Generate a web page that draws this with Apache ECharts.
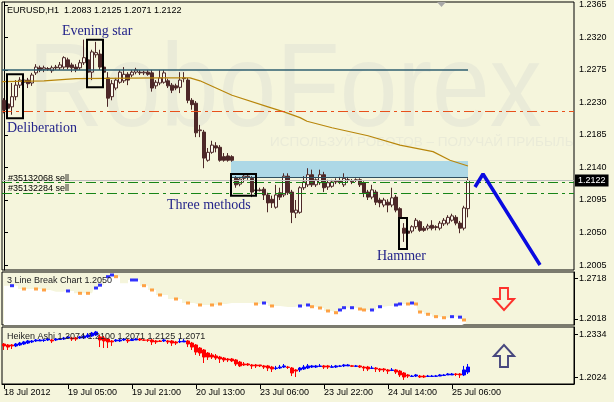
<!DOCTYPE html>
<html><head><meta charset="utf-8">
<script src="https://cdn.jsdelivr.net/npm/echarts@6/dist/echarts.min.js"></script>
<style>html,body{margin:0;padding:0;background:#f5f5dc}#c{width:614px;height:402px}</style>
</head><body><div id="c"></div>
<script>
// ---- main EURUSD H1 candles (bars 0..116) ----
const opens = [1.2233,1.2228,1.2224,1.2238,1.2254,1.2258,1.2261,1.2257,1.2271,1.2278,
1.2276,1.2276,1.2274,1.2279,1.2278,1.2279,1.2289,1.2282,1.2279,1.2278,
1.2285,1.2289,1.2272,1.2296,1.2297,1.2279,1.2264,1.2238,1.2250,1.2258,
1.2260,1.2269,1.2268,1.2272,1.2272,1.2271,1.2272,1.2271,1.2253,1.2257,
1.2258,1.2260,1.2254,1.2253,1.2251,1.2263,1.2261,1.2233,1.2229,1.2191,
1.2189,1.2150,1.2161,1.2170,1.2168,1.2155,1.2156,1.2155,1.2125,1.2117,
1.2125,1.2127,1.2125,1.2109,1.2109,1.2110,1.2102,1.2096,1.2085,1.2105,
1.2102,1.2128,1.2106,1.2077,1.2078,1.2112,1.2116,1.2130,1.2116,1.2119,
1.2130,1.2113,1.2114,1.2120,1.2121,1.2116,1.2123,1.2120,1.2123,1.2123,
1.2119,1.2106,1.2099,1.2106,1.2095,1.2088,1.2092,1.2088,1.2099,1.2083,
1.2056,1.2052,1.2052,1.2058,1.2065,1.2056,1.2056,1.2060,1.2058,1.2056,
1.2062,1.2063,1.2067,1.2071,1.2063,1.2056,1.2083];
const closes = [1.2220,1.2222,1.2238,1.2254,1.2261,1.2261,1.2256,1.2268,1.2279,1.2275,
1.2278,1.2277,1.2278,1.2278,1.2282,1.2292,1.2279,1.2278,1.2276,1.2285,
1.2292,1.2272,1.2300,1.2299,1.2279,1.2272,1.2236,1.2256,1.2261,1.2272,
1.2269,1.2261,1.2272,1.2275,1.2271,1.2272,1.2269,1.2250,1.2258,1.2264,
1.2271,1.2253,1.2247,1.2250,1.2261,1.2264,1.2233,1.2227,1.2188,1.2192,
1.2153,1.2161,1.2171,1.2167,1.2150,1.2150,1.2150,1.2150,1.2116,1.2124,
1.2128,1.2128,1.2106,1.2108,1.2108,1.2102,1.2091,1.2091,1.2102,1.2099,
1.2128,1.2105,1.2078,1.2081,1.2112,1.2120,1.2130,1.2116,1.2123,1.2130,
1.2112,1.2119,1.2120,1.2121,1.2120,1.2125,1.2123,1.2121,1.2122,1.2116,
1.2105,1.2099,1.2109,1.2092,1.2091,1.2095,1.2088,1.2098,1.2081,1.2070,
1.2049,1.2049,1.2058,1.2067,1.2053,1.2053,1.2059,1.2056,1.2057,1.2063,
1.2067,1.2071,1.2073,1.2063,1.2056,1.2084,1.2122];
const highs = [1.2236,1.2233,1.2257,1.2261,1.2265,1.2264,1.2264,1.2271,1.2283,1.2281,
1.2281,1.2279,1.2281,1.2282,1.2286,1.2294,1.2292,1.2285,1.2283,1.2289,
1.2317,1.2292,1.2303,1.2314,1.2303,1.2281,1.2272,1.2261,1.2264,1.2275,
1.2279,1.2272,1.2275,1.2278,1.2275,1.2274,1.2275,1.2275,1.2261,1.2275,
1.2275,1.2263,1.2257,1.2256,1.2272,1.2272,1.2264,1.2236,1.2232,1.2199,
1.2192,1.2167,1.2177,1.2175,1.2171,1.2160,1.2160,1.2157,1.2128,1.2127,
1.2132,1.2131,1.2128,1.2112,1.2112,1.2113,1.2105,1.2101,1.2116,1.2112,
1.2132,1.2132,1.2109,1.2095,1.2114,1.2128,1.2139,1.2137,1.2125,1.2137,
1.2134,1.2123,1.2123,1.2125,1.2127,1.2132,1.2127,1.2124,1.2125,1.2125,
1.2121,1.2109,1.2116,1.2109,1.2098,1.2098,1.2096,1.2112,1.2102,1.2085,
1.2063,1.2055,1.2060,1.2070,1.2067,1.2059,1.2062,1.2067,1.2060,1.2066,
1.2070,1.2074,1.2076,1.2074,1.2066,1.2087,1.2125];
const lows = [1.2215,1.2214,1.2213,1.2233,1.2250,1.2254,1.2250,1.2253,1.2268,1.2272,
1.2272,1.2274,1.2271,1.2275,1.2275,1.2276,1.2276,1.2272,1.2272,1.2275,
1.2282,1.2267,1.2261,1.2292,1.2275,1.2268,1.2224,1.2233,1.2247,1.2256,
1.2257,1.2254,1.2265,1.2269,1.2268,1.2268,1.2267,1.2245,1.2249,1.2254,
1.2256,1.2250,1.2243,1.2247,1.2243,1.2258,1.2229,1.2220,1.2182,1.2182,
1.2139,1.2148,1.2159,1.2161,1.2148,1.2148,1.2148,1.2148,1.2112,1.2114,
1.2119,1.2123,1.2099,1.2106,1.2107,1.2095,1.2078,1.2084,1.2083,1.2095,
1.2099,1.2102,1.2063,1.2070,1.2076,1.2109,1.2113,1.2113,1.2113,1.2116,
1.2106,1.2109,1.2112,1.2117,1.2117,1.2113,1.2120,1.2117,1.2120,1.2113,
1.2099,1.2095,1.2096,1.2088,1.2085,1.2085,1.2078,1.2085,1.2078,1.2065,
1.2037,1.2047,1.2049,1.2055,1.2051,1.2051,1.2053,1.2053,1.2053,1.2053,
1.2059,1.2060,1.2065,1.2060,1.2049,1.2053,1.2071];

// ---- moving average (sparse readings: bar position, value) ----
const maBars = [-0.5,10,18,39,46.5,49,57,66,70,74,75.75,82,91,99,107.25,111.5,116];
const maVals = [1.2259,1.2260,1.2263,1.2264,1.2264,1.2260,1.2240,1.2224,1.2217,1.2209,1.2204,1.2195,1.2184,1.2171,1.2162,1.2150,1.2142];

// ---- forecast zigzag ----
const zzBars = [117.75,119.75,134];
const zzVals = [1.2113,1.2131,1.2005];

// ---- Heiken Ashi ----
const haOpen = [1.2264,1.2257,1.2257,1.2250,1.2257,1.2264,1.2271,1.2279,1.2286,1.2286,
1.2289,1.2293,1.2293,1.2293,1.2297,1.2300,1.2307,1.2307,1.2307,1.2307,
1.2307,1.2315,1.2322,1.2329,1.2315,1.2307,1.2300,1.2286,1.2286,1.2286,
1.2293,1.2293,1.2289,1.2293,1.2300,1.2293,1.2293,1.2293,1.2286,1.2286,
1.2286,1.2286,1.2286,1.2279,1.2279,1.2279,1.2286,1.2271,1.2257,1.2235,
1.2221,1.2199,1.2185,1.2178,1.2170,1.2163,1.2156,1.2156,1.2149,1.2134,
1.2120,1.2120,1.2113,1.2113,1.2113,1.2106,1.2106,1.2098,1.2088,1.2091,
1.2098,1.2098,1.2091,1.2077,1.2077,1.2084,1.2091,1.2098,1.2098,1.2102,
1.2106,1.2106,1.2096,1.2098,1.2103,1.2106,1.2106,1.2107,1.2103,1.2106,
1.2098,1.2098,1.2088,1.2091,1.2084,1.2084,1.2077,1.2073,1.2077,1.2069,
1.2055,1.2041,1.2030,1.2033,1.2033,1.2033,1.2030,1.2030,1.2031,1.2033,
1.2037,1.2041,1.2041,1.2048,1.2048,1.2041,1.2062];
const haClose = [1.2250,1.2242,1.2250,1.2264,1.2271,1.2279,1.2286,1.2286,1.2293,1.2293,
1.2293,1.2300,1.2286,1.2300,1.2300,1.2307,1.2315,1.2300,1.2300,1.2315,
1.2322,1.2329,1.2343,1.2351,1.2293,1.2286,1.2279,1.2279,1.2293,1.2293,
1.2300,1.2286,1.2297,1.2300,1.2293,1.2291,1.2291,1.2279,1.2279,1.2282,
1.2293,1.2279,1.2271,1.2271,1.2282,1.2286,1.2264,1.2242,1.2206,1.2199,
1.2170,1.2170,1.2170,1.2163,1.2156,1.2149,1.2149,1.2142,1.2120,1.2106,
1.2113,1.2113,1.2106,1.2106,1.2106,1.2098,1.2091,1.2084,1.2091,1.2098,
1.2106,1.2095,1.2055,1.2069,1.2091,1.2098,1.2106,1.2106,1.2106,1.2106,
1.2098,1.2098,1.2100,1.2106,1.2106,1.2113,1.2113,1.2103,1.2106,1.2098,
1.2091,1.2084,1.2091,1.2084,1.2077,1.2077,1.2069,1.2077,1.2062,1.2041,
1.2026,1.2033,1.2033,1.2041,1.2026,1.2026,1.2033,1.2033,1.2034,1.2041,
1.2041,1.2048,1.2048,1.2044,1.2041,1.2077,1.2098];
const haHigh = [1.2271,1.2264,1.2264,1.2271,1.2279,1.2286,1.2293,1.2293,1.2300,1.2300,
1.2300,1.2307,1.2300,1.2307,1.2307,1.2315,1.2322,1.2315,1.2315,1.2322,
1.2336,1.2343,1.2351,1.2358,1.2329,1.2322,1.2307,1.2293,1.2300,1.2300,
1.2307,1.2300,1.2307,1.2307,1.2307,1.2300,1.2300,1.2300,1.2293,1.2293,
1.2300,1.2293,1.2293,1.2286,1.2300,1.2300,1.2293,1.2279,1.2264,1.2242,
1.2228,1.2206,1.2199,1.2192,1.2178,1.2170,1.2163,1.2163,1.2156,1.2142,
1.2134,1.2127,1.2120,1.2120,1.2113,1.2113,1.2113,1.2106,1.2106,1.2113,
1.2120,1.2106,1.2098,1.2084,1.2098,1.2113,1.2120,1.2113,1.2113,1.2120,
1.2113,1.2113,1.2113,1.2113,1.2113,1.2120,1.2120,1.2113,1.2113,1.2113,
1.2106,1.2106,1.2106,1.2098,1.2091,1.2091,1.2084,1.2091,1.2084,1.2077,
1.2062,1.2048,1.2041,1.2048,1.2041,1.2041,1.2041,1.2041,1.2041,1.2048,
1.2048,1.2055,1.2055,1.2055,1.2055,1.2106,1.2120];
const haLow = [1.2221,1.2221,1.2228,1.2242,1.2250,1.2257,1.2264,1.2271,1.2279,1.2286,
1.2279,1.2286,1.2271,1.2286,1.2293,1.2293,1.2300,1.2286,1.2286,1.2300,
1.2300,1.2307,1.2315,1.2322,1.2242,1.2235,1.2235,1.2250,1.2279,1.2279,
1.2286,1.2271,1.2286,1.2293,1.2286,1.2286,1.2279,1.2257,1.2264,1.2279,
1.2279,1.2264,1.2250,1.2257,1.2271,1.2279,1.2242,1.2221,1.2185,1.2178,
1.2127,1.2149,1.2156,1.2149,1.2127,1.2134,1.2134,1.2134,1.2106,1.2098,
1.2106,1.2106,1.2084,1.2091,1.2098,1.2084,1.2069,1.2062,1.2077,1.2084,
1.2091,1.2084,1.2033,1.2026,1.2062,1.2077,1.2084,1.2091,1.2091,1.2098,
1.2084,1.2084,1.2091,1.2091,1.2098,1.2098,1.2106,1.2098,1.2098,1.2091,
1.2069,1.2069,1.2084,1.2062,1.2062,1.2062,1.2048,1.2069,1.2048,1.2026,
1.2005,1.2019,1.2026,1.2026,1.2019,1.2019,1.2026,1.2026,1.2026,1.2033,
1.2033,1.2041,1.2041,1.2033,1.2019,1.2033,1.2048];

// ---- 3 Line Break (sparse readings) ----
const lbBars = [0,2,5,8,10,13,16,19,21,22,23,24,26,27,28,30,32,33,35,37,39,43,46,49,52,54,57,61,63,65,67,71,74,76,77,79,81,83,84,85,87,89,90,92,94,96,98,99,101,102,103,104,106,108,110,112,114,115,116];
const lbVals = [1.2591,1.2591,1.2534,1.2534,1.2517,1.2488,1.2500,1.2460,1.2460,1.2460,1.2551,1.2600,1.2746,1.2775,1.2746,1.2632,1.2689,1.2689,1.2591,1.2517,1.2431,1.2362,1.2293,1.2259,1.2259,1.2276,1.2293,1.2293,1.2276,1.2293,1.2242,1.2224,1.2242,1.2259,1.2229,1.2207,1.2156,1.2126,1.2173,1.2212,1.2212,1.2190,1.2173,1.2173,1.2229,1.2242,1.2259,1.2276,1.2276,1.2293,1.2276,1.2138,1.2099,1.2058,1.2040,1.2058,1.2050,1.2001,1.1949];
const lbDir = ['','u','d','d','d','','u','d','d','','u','u','u','u','d','','u','u','d','d','d','d','d','d','d','d','','','d','u','d','','u','u','d','d','d','d','u','u','u','d','d','u','u','','u','u','d','u','d','d','d','d','d','u','u','d',''];

// ---- axis labels ----
const tickLabels = ['18 Jul 2012','19 Jul 05:00','19 Jul 21:00','20 Jul 13:00','23 Jul 06:00','23 Jul 22:00','24 Jul 14:00','25 Jul 06:00'];
const mainTicks = [1.2005,1.2050,1.2095,1.2140,1.2185,1.2230,1.2275,1.2320,1.2365];
const lbTicks = [1.2018,1.2718];
const haTicks = [1.2024,1.2334];

// ---- levels ----
const resistLevel = 1.2275, redLevel = 1.2218, sell1 = 1.2119, sell2 = 1.2105, bid = 1.2122;
const zoneTop = 1.2149, zoneBottom = 1.2127;
const arrowDownVal = 1.2362, arrowUpVal = 1.2178, arrowBar = 125;

const N = 143;
const cats = []; for (let i = 0; i < N; i++) cats.push(String(i));
const lastBar = opens.length - 1;
const mainData = opens.map((o, i) => [o, closes[i], lows[i], highs[i]]);
const haData = haOpen.map((o, i) => [o, haClose[i], haLow[i], haHigh[i]]);
const F = 'Liberation Sans';
const lblStyle = {fontFamily: F, fontSize: 9, color: '#000'};

const chart = echarts.init(document.getElementById('c'), null, {renderer: 'canvas'});
const gb = {show: true, borderColor: '#000', borderWidth: 1, backgroundColor: 'transparent'};
const hidCat = (gi) => ({type: 'category', gridIndex: gi, data: cats, show: false, boundaryGap: true});
const yAx = (gi, min, max, ticks) => ({
  type: 'value', gridIndex: gi, position: 'right', min: min, max: max, scale: true,
  splitLine: {show: false},
  axisLine: {show: true, lineStyle: {color: '#000'}},
  axisTick: {show: true, length: 4, customValues: ticks, lineStyle: {color: '#000'}},
  axisLabel: Object.assign({show: true, margin: 5, customValues: ticks, formatter: v => v.toFixed(4)}, lblStyle)
});
const dashDot = [10, 4, 3, 4];
const tickShow = (i) => i % 16 === 0 && i <= lastBar;

const option = {
  animation: false,
  backgroundColor: '#f5f5dc',
  grid: [
    Object.assign({left: 2, top: 2, width: 572, height: 268}, gb),
    Object.assign({left: 2, top: 272, width: 572, height: 53}, gb),
    Object.assign({left: 2, top: 327, width: 572, height: 57}, gb)
  ],
  xAxis: [
    hidCat(0),
    {type: 'value', gridIndex: 0, min: -0.5, max: N - 0.5, show: false},
    hidCat(1),
    {type: 'category', gridIndex: 2, data: cats, boundaryGap: true,
     axisLine: {show: true, lineStyle: {color: '#000'}},
     axisTick: {show: true, length: 5, alignWithLabel: true, interval: tickShow, lineStyle: {color: '#000'}},
     axisLabel: Object.assign({interval: tickShow, align: 'left', margin: 4,
       formatter: (v, i) => tickLabels[Math.round(Number(v) / 16)] || ''}, lblStyle)}
  ],
  yAxis: [
    yAx(0, 1.19981, 1.23691, mainTicks),
    yAx(1, 1.19148, 1.28264, lbTicks),
    yAx(2, 1.19757, 1.23866, haTicks)
  ],
  series: [
    {type: 'line', name: 'ma', xAxisIndex: 1, yAxisIndex: 0, z: 4, silent: true,
     data: maBars.map((b, i) => [b, maVals[i]]), symbol: 'none',
     lineStyle: {color: '#b8860b', width: 1.2},
     markArea: {silent: true, z: 1, itemStyle: {color: '#add8e6'},
       data: [[{coord: [56.75, zoneTop]}, {coord: [lastBar, zoneBottom]}]]},
     markLine: {silent: true, symbol: ['none', 'none'], z: 5, precision: 4,
       data: [
         {yAxis: redLevel, lineStyle: {color: '#e8501a', width: 1, type: dashDot}, label: {show: false}},
         {yAxis: bid, lineStyle: {color: '#bdbdbd', width: 1, type: 'solid'},
          label: {show: true, position: 'end', distance: 1, formatter: '1.2122', backgroundColor: '#000', color: '#fff',
                  padding: [2, 3, 1, 3], fontFamily: F, fontSize: 9}},
         {yAxis: sell1, lineStyle: {color: '#178517', width: 1, type: dashDot},
          label: {show: true, position: 'insideStartTop', distance: 0, padding: [0, 0, 0, 6], formatter: '#35132068 sell', fontFamily: F, fontSize: 9, color: '#000'}},
         {yAxis: sell2, lineStyle: {color: '#178517', width: 1, type: dashDot},
          label: {show: true, position: 'insideStartTop', distance: 0, padding: [0, 0, 0, 6], formatter: '#35132284 sell', fontFamily: F, fontSize: 9, color: '#000'}},
         [{coord: [-0.5, resistLevel], lineStyle: {color: '#2f5f70', width: 1.5, type: 'solid'}, label: {show: false}}, {coord: [lastBar, resistLevel]}],
         [{coord: [56.75, zoneBottom], lineStyle: {color: '#2f5060', width: 1.2, type: 'solid'}, label: {show: false}}, {coord: [lastBar, zoneBottom]}]
       ]}
    },
    {type: 'candlestick', xAxisIndex: 0, yAxisIndex: 0, z: 3, silent: true, data: mainData, barWidth: 3,
     itemStyle: {color: '#fbfbef', color0: '#4d2828', borderColor: '#4d2828', borderColor0: '#4d2828', borderWidth: 1}},
    {type: 'line', name: 'zigzag', xAxisIndex: 1, yAxisIndex: 0, z: 6, silent: true,
     data: zzBars.map((b, i) => [b, zzVals[i]]), symbol: 'none',
     lineStyle: {color: '#0a0ae0', width: 3.5},
     markArea: {silent: true, z: 6, itemStyle: {color: 'rgba(0,0,0,0)', borderColor: '#000', borderWidth: 2},
       data: [
         [{coord: [0.75, 1.2269]}, {coord: [4.75, 1.2208]}],
         [{coord: [20.75, 1.2317]}, {coord: [24.75, 1.2251]}],
         [{coord: [56.75, 1.2131]}, {coord: [63, 1.2101]}],
         [{coord: [98.75, 1.2070]}, {coord: [100.75, 1.2027]}]
       ]}
    },
    {type: 'line', xAxisIndex: 2, yAxisIndex: 1, z: 2, silent: true, step: 'middle',
     data: lbBars.map((b, i) => [b, lbVals[i]]), symbol: 'none',
     lineStyle: {width: 0, opacity: 0}, areaStyle: {color: '#ffffff', opacity: 1, origin: 'start'}},
    {type: 'scatter', xAxisIndex: 2, yAxisIndex: 1, z: 3, silent: true, symbol: 'rect', symbolSize: [4, 3],
     data: lbBars.map((b, i) => lbDir[i] ? {value: [b, lbVals[i]], itemStyle: {color: lbDir[i] === 'u' ? '#0000ff' : '#ff8c1a'}} : null).filter(Boolean)},
    {type: 'scatter', xAxisIndex: 2, yAxisIndex: 1, z: 4, silent: true,
     symbol: 'path://M6,0 L14,0 L14,11 L20,11 L10,22 L0,11 L6,11 Z', symbolSize: [20, 22],
     itemStyle: {color: 'rgba(255,255,255,0)', borderColor: '#ff0000', borderWidth: 2},
     data: [[arrowBar, arrowDownVal]]},
    {type: 'candlestick', xAxisIndex: 3, yAxisIndex: 2, z: 3, silent: true, data: haData, barWidth: 3,
     itemStyle: {color: '#0000ff', color0: '#ff0000', borderColor: '#0000ff', borderColor0: '#ff0000', borderWidth: 1}},
    {type: 'scatter', xAxisIndex: 3, yAxisIndex: 2, z: 4, silent: true,
     symbol: 'path://M10,0 L20,11 L14,11 L14,22 L6,22 L6,11 L0,11 Z', symbolSize: [20, 22],
     itemStyle: {color: 'rgba(255,255,255,0)', borderColor: '#1c1c66', borderWidth: 2},
     data: [[arrowBar, arrowUpVal]]}
  ],
  graphic: [
    {type: 'text', x: 28, y: 93, z: -10, scaleX: 0.88, silent: true,
     style: {text: 'RoboForex', font: '118px "Liberation Sans"', fill: '#eaebd8', verticalAlign: 'middle', textVerticalAlign: 'middle'}},
    {type: 'text', x: 270, y: 142, z: -10, silent: true,
     style: {text: 'ИСПОЛЬЗУЙ РОБОТОВ – ПОЛУЧАЙ ПРИБЫЛЬ', font: '13.5px "Liberation Sans"', fill: '#eaebd8', verticalAlign: 'middle', textVerticalAlign: 'middle'}},
    {type: 'polygon', z: 100, silent: true, shape: {points: [[437, 2], [446, 2], [441.5, 7]]}, style: {fill: '#a8a8a8'}},
    {type: 'text', x: 7, y: 11, z: 100, silent: true,
     style: {text: 'EURUSD,H1  1.2083 1.2125 1.2071 1.2122', font: '9px "Liberation Sans"', fill: '#000', verticalAlign: 'middle', textVerticalAlign: 'middle'}},
    {type: 'text', x: 7, y: 281, z: 100, silent: true,
     style: {text: '3 Line Break Chart 1.2050', font: '9px "Liberation Sans"', fill: '#222', verticalAlign: 'middle', textVerticalAlign: 'middle'}},
    {type: 'text', x: 7, y: 337, z: 100, silent: true,
     style: {text: 'Heiken Ashi 1.2074 1.2100 1.2071 1.2125 1.2071', font: '9px "Liberation Sans"', fill: '#222', verticalAlign: 'middle', textVerticalAlign: 'middle'}},
    {type: 'text', x: 62, y: 31, z: 100, silent: true,
     style: {text: 'Evening star', font: '14px "Liberation Serif"', fill: '#24248a', verticalAlign: 'middle', textVerticalAlign: 'middle'}},
    {type: 'text', x: 7, y: 128, z: 100, silent: true,
     style: {text: 'Deliberation', font: '14px "Liberation Serif"', fill: '#24248a', verticalAlign: 'middle', textVerticalAlign: 'middle'}},
    {type: 'text', x: 167, y: 205, z: 100, silent: true,
     style: {text: 'Three methods', font: '14px "Liberation Serif"', fill: '#24248a', verticalAlign: 'middle', textVerticalAlign: 'middle'}},
    {type: 'text', x: 377, y: 256, z: 100, silent: true,
     style: {text: 'Hammer', font: '14px "Liberation Serif"', fill: '#24248a', verticalAlign: 'middle', textVerticalAlign: 'middle'}}
  ]
};
chart.setOption(option);
</script>
</body></html>
